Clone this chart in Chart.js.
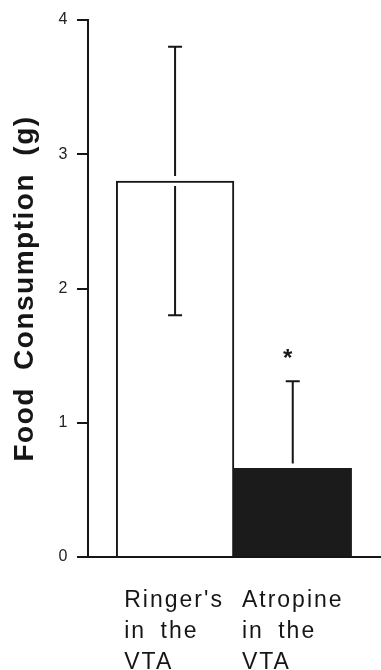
<!DOCTYPE html>
<html>
<head>
<meta charset="utf-8">
<script src="https://cdn.jsdelivr.net/npm/chart.js@4/dist/chart.umd.min.js"></script>
<style>
  html, body { margin: 0; padding: 0; background: #fff; }
  #wrap { width: 381px; height: 670px; }
</style>
</head>
<body>
<div id="wrap"><canvas id="foodChart"></canvas></div>
<script>
// groups on the x axis (one label line per entry)
const groups = [["Ringer's", "in the", "VTA"], ["Atropine", "in the", "VTA"]];
const groupPos = [1, 2];
// mean food consumption (g)
const means = [2.8, 0.66];
// error bars, up and down
const errUp = [1.0, 0.65];
const errDown = [1.0, 0];
const marks = ["", "*"];
const yTicks = [0, 1, 2, 3, 4];

const ink = '#161616';

const errorBars = {
  id: 'errorBars',
  beforeDraw(chart) {
    chart.ctx.letterSpacing = '1.5px';
    chart.ctx.wordSpacing = '8px';
  },
  afterDatasetsDraw(chart) {
    const ctx = chart.ctx;
    const y = chart.scales.y;
    const meta = chart.getDatasetMeta(0);
    ctx.save();
    ctx.strokeStyle = ink;
    ctx.fillStyle = ink;
    ctx.lineWidth = 2;
    for (let i = 0; i < means.length; i++) {
      const bar = meta.data[i];
      const top = y.getPixelForValue(means[i]);
      const hi = y.getPixelForValue(means[i] + errUp[i]);
      ctx.beginPath();
      ctx.moveTo(bar.x, top - 5);
      ctx.lineTo(bar.x, hi);
      ctx.moveTo(bar.x - 7, hi);
      ctx.lineTo(bar.x + 7, hi);
      if (errDown[i] > 0) {
        const lo = y.getPixelForValue(means[i] - errDown[i]);
        ctx.moveTo(bar.x, top + 5);
        ctx.lineTo(bar.x, lo);
        ctx.moveTo(bar.x - 7, lo);
        ctx.lineTo(bar.x + 7, lo);
      }
      ctx.stroke();
      if (marks[i]) {
        ctx.font = 'bold 24px "Liberation Sans", Arial, sans-serif';
        ctx.textAlign = 'center';
        ctx.textBaseline = 'alphabetic';
        ctx.letterSpacing = '0px';
        ctx.fillText(marks[i], bar.x - 5, hi - 15);
      }
    }
    ctx.restore();
  },
  afterDraw(chart) {
    const ctx = chart.ctx;
    const meta = chart.getDatasetMeta(0);
    ctx.save();
    ctx.font = '23px "Liberation Sans", Arial, sans-serif';
    ctx.letterSpacing = '2px';
    ctx.wordSpacing = '6px';
    ctx.fillStyle = ink;
    ctx.textAlign = 'left';
    ctx.textBaseline = 'alphabetic';
    for (let i = 0; i < groups.length; i++) {
      const bar = meta.data[i];
      const left = bar.x - bar.width / 2 + 8;
      groups[i].forEach((line, k) => {
        ctx.fillText(line, left, chart.chartArea.bottom + 50 + k * 31);
      });
    }
    ctx.restore();
  }
};

const ctx = document.getElementById('foodChart').getContext('2d');

const foodChart = new Chart(ctx, {
  type: 'bar',
  data: {
    datasets: [{
      data: groupPos.map((x, i) => ({ x: x, y: means[i] })),
      backgroundColor: ['#ffffff', '#1b1b1b'],
      borderColor: ink,
      borderWidth: [2, 0],
      barPercentage: 1,
      categoryPercentage: 1
    }]
  },
  options: {
    responsive: true,
    maintainAspectRatio: false,
    devicePixelRatio: 1,
    animation: false,
    layout: { padding: { top: 20, left: 0, right: 0, bottom: 0 } },
    plugins: {
      legend: { display: false },
      tooltip: { enabled: false }
    },
    scales: {
      x: {
        type: 'linear',
        min: 0.26,
        max: 2.75,
        offset: false,
        afterBuildTicks(scale) { scale.ticks = groupPos.map(v => ({ value: v })); },
        ticks: { display: false },
        grid: { display: false, offset: false },
        border: { display: true, color: ink, width: 2 },
        afterFit(scale) { scale.height = 113; }
      },
      y: {
        min: 0,
        max: 4,
        afterBuildTicks(scale) { scale.ticks = yTicks.map(v => ({ value: v })); },
        ticks: {
          color: '#222',
          padding: 8,
          font: { family: '"Liberation Sans", Arial, sans-serif', size: 16 }
        },
        grid: {
          drawOnChartArea: false,
          drawTicks: true,
          tickLength: 11,
          lineWidth: 2,
          color: ink
        },
        border: { display: true, color: ink, width: 2 },
        title: {
          display: true,
          text: 'Food Consumption (g)',
          color: ink,
          padding: { top: 8, bottom: 0 },
          font: { family: '"Liberation Sans", Arial, sans-serif', size: 28, weight: 'bold' }
        },
        afterFit(scale) { scale.width = 88; }
      }
    }
  },
  plugins: [errorBars]
});
</script>
</body>
</html>
